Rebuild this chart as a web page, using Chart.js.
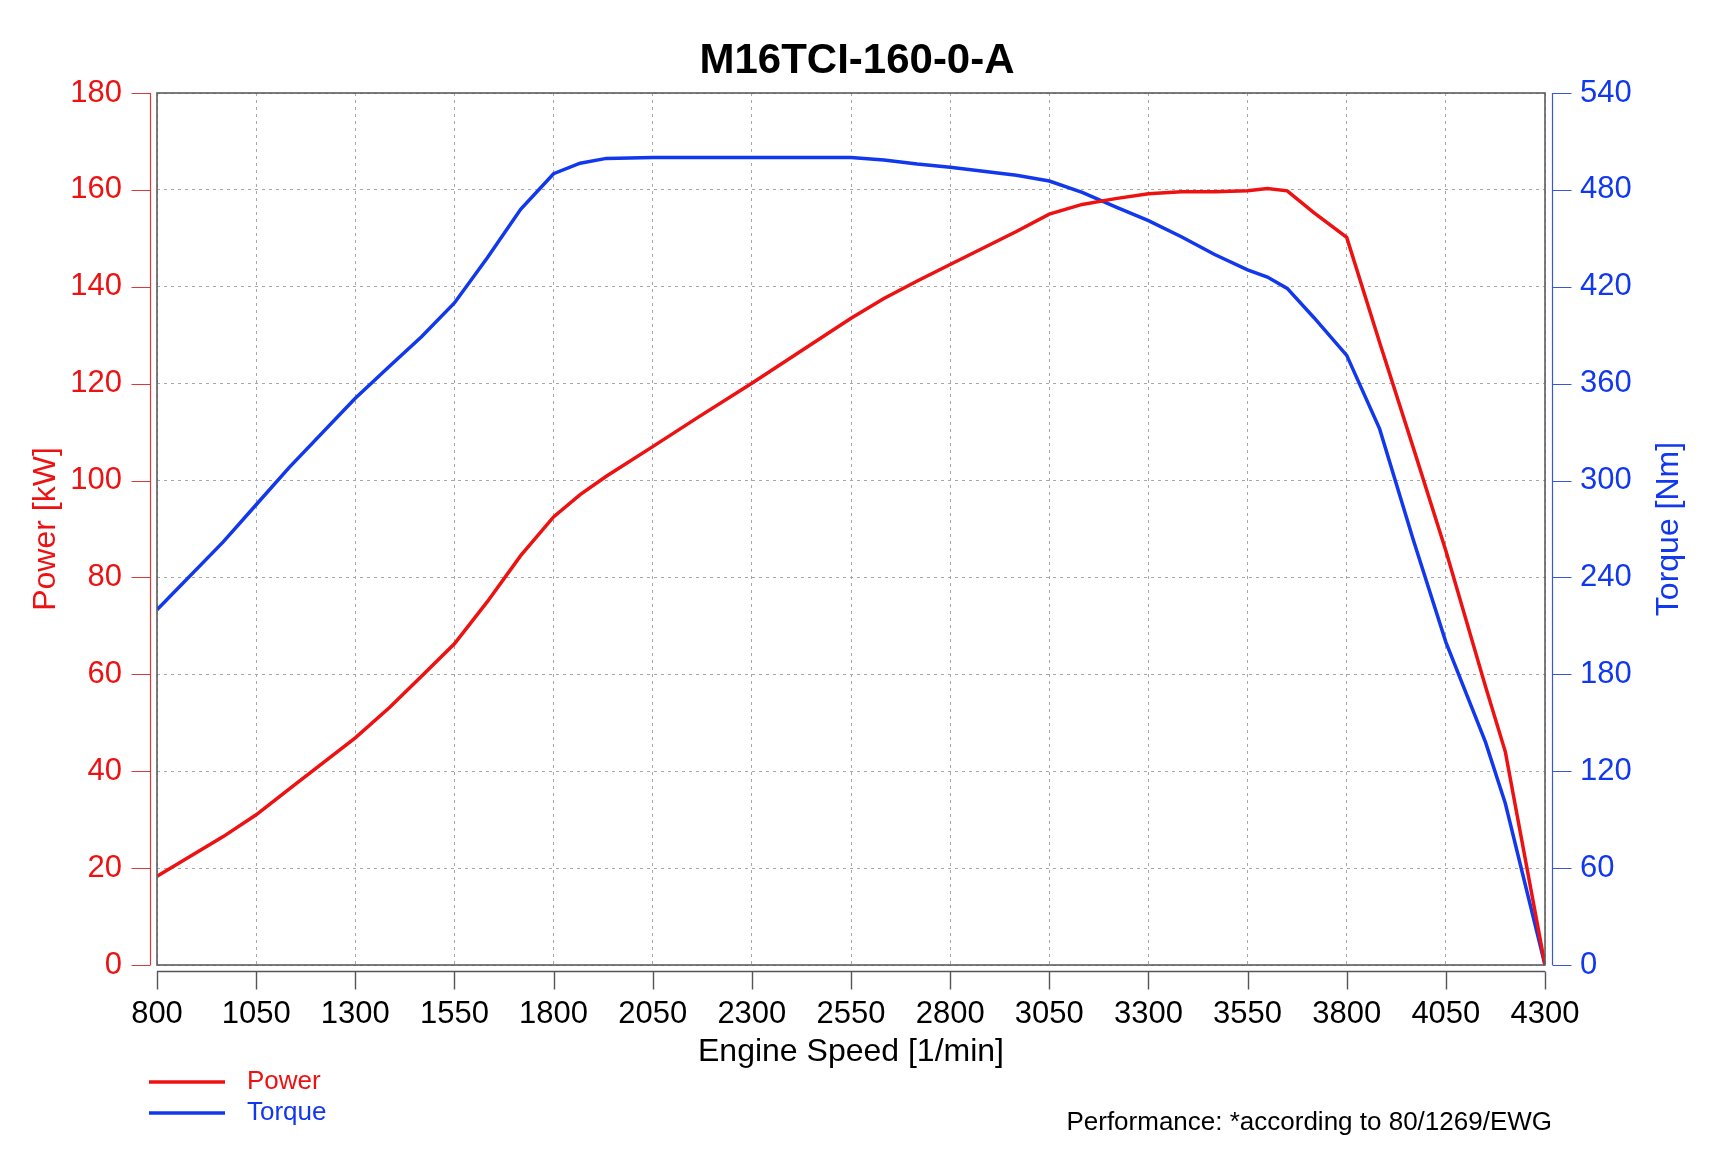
<!DOCTYPE html>
<html>
<head>
<meta charset="utf-8">
<title>M16TCI-160-0-A</title>
<script src="https://cdn.jsdelivr.net/npm/chart.js@4.4.1/dist/chart.umd.min.js"></script>
<style>
  html, body { margin: 0; padding: 0; background: #fff; }
  #wrap { position: relative; width: 1714px; height: 1166px; }
</style>
</head>
<body>
<div id="wrap"><canvas id="chart" width="1714" height="1166"></canvas></div>
<script>
// engine speed [1/min] where the curves were read
const rpm = [800, 967, 1050, 1133, 1300, 1387, 1467, 1550, 1633, 1717, 1800, 1867, 1933, 2050, 2167, 2300,
  2550, 2633, 2717, 2800, 2967, 3050, 3133, 3217, 3300, 3383, 3467, 3550, 3600, 3650, 3717,
  3800, 3883, 3967, 4050, 4150, 4200, 4300];

// Power [kW]
const powerKw = [18.3, 26.5, 31, 36.3, 46.9, 53.2, 59.6, 66.3, 75, 84.5, 92.5, 97.1, 100.9, 107, 113.2, 120.1,
  133.5, 137.6, 141.2, 144.6, 151.4, 155, 157, 158.2, 159.2, 159.6, 159.6, 159.8, 160.3, 159.8, 155.3,
  150.2, 128.5, 107, 85.5, 57.5, 44, 0];

// Torque [Nm]
const torqueNm = [220, 262, 285, 308, 351, 371, 389, 410, 438, 468, 490, 496.5, 499.5, 500, 500, 500,
  500, 498.5, 496, 494, 489, 485.5, 478.5, 469.5, 461, 451, 440, 430.5, 426, 419, 401,
  377.5, 332, 264, 200, 138, 100, 0];

const xTicks = [800, 1050, 1300, 1550, 1800, 2050, 2300, 2550, 2800, 3050, 3300, 3550, 3800, 4050, 4300];

const RED = '#ee1111';
const BLUE = '#1238ee';
const FONT = "'Liberation Sans', Arial, Helvetica, sans-serif";

// axis lines sit a few px outside the plot frame, like the original
const axisDecor = {
  id: 'axisDecor',
  afterDraw(chart) {
    const { ctx, chartArea: a, scales } = chart;
    const gap = 6.5, tick = 19;
    ctx.save();
    ctx.setLineDash([]);

    // plot frame
    ctx.strokeStyle = '#5c5c5c';
    ctx.lineWidth = 1.6;
    ctx.strokeRect(a.left, a.top, a.right - a.left, a.bottom - a.top);

    ctx.lineWidth = 1.2;
    // left power axis
    ctx.strokeStyle = '#d83a3a';
    ctx.beginPath();
    ctx.moveTo(a.left - gap, a.top); ctx.lineTo(a.left - gap, a.bottom);
    scales.y.ticks.forEach(t => {
      const py = Math.round(scales.y.getPixelForValue(t.value)) + 0.5;
      ctx.moveTo(a.left - gap, py); ctx.lineTo(a.left - gap - tick, py);
    });
    ctx.stroke();

    // right torque axis
    ctx.strokeStyle = '#3a57d0';
    ctx.beginPath();
    ctx.moveTo(a.right + gap + 1, a.top); ctx.lineTo(a.right + gap + 1, a.bottom);
    scales.y1.ticks.forEach(t => {
      const py = Math.round(scales.y1.getPixelForValue(t.value)) + 0.5;
      ctx.moveTo(a.right + gap + 1, py); ctx.lineTo(a.right + gap + 1 + tick, py);
    });
    ctx.stroke();

    // bottom speed axis
    ctx.strokeStyle = '#555';
    ctx.lineWidth = 1.4;
    ctx.beginPath();
    ctx.moveTo(a.left, a.bottom + gap); ctx.lineTo(a.right, a.bottom + gap);
    scales.x.ticks.forEach(t => {
      const px = Math.round(scales.x.getPixelForValue(t.value)) + 0.5;
      ctx.moveTo(px, a.bottom + gap); ctx.lineTo(px, a.bottom + gap + 18);
    });
    ctx.stroke();

    // right axis title reads bottom to top
    ctx.fillStyle = BLUE;
    ctx.font = '32px ' + FONT;
    ctx.textAlign = 'center';
    ctx.textBaseline = 'middle';
    ctx.translate(1669, (a.top + a.bottom) / 2);
    ctx.rotate(-Math.PI / 2);
    ctx.fillText('Torque [Nm]', 0, 0);
    ctx.restore();

    // legend, stacked at bottom left
    ctx.save();
    ctx.font = '26px ' + FONT;
    ctx.textBaseline = 'middle';
    chart.data.datasets.forEach((ds, i) => {
      const ly = 1082 + i * 31;
      ctx.strokeStyle = ds.borderColor;
      ctx.lineWidth = 3.5;
      ctx.beginPath();
      ctx.moveTo(149, ly); ctx.lineTo(225, ly);
      ctx.stroke();
      ctx.fillStyle = ds.borderColor;
      ctx.fillText(ds.label, 247, ly);
    });

    // footnote
    ctx.fillStyle = '#000';
    ctx.textAlign = 'right';
    ctx.fillText('Performance: *according to 80/1269/EWG', 1552, 1123);
    ctx.restore();
  }
};

const gridDash = { display: false, dash: [3, 4] };

new Chart(document.getElementById('chart'), {
  type: 'line',
  data: {
    datasets: [
      {
        label: 'Power',
        data: rpm.map((r, i) => ({ x: r, y: powerKw[i] })),
        borderColor: RED,
        borderWidth: 3.5,
        pointRadius: 0,
        tension: 0,
        yAxisID: 'y'
      },
      {
        label: 'Torque',
        data: rpm.map((r, i) => ({ x: r, y: torqueNm[i] })),
        borderColor: BLUE,
        borderWidth: 3.5,
        pointRadius: 0,
        tension: 0,
        yAxisID: 'y1'
      }
    ]
  },
  options: {
    responsive: false,
    animation: false,
    devicePixelRatio: 1,
    layout: { padding: 0 },
    plugins: {
      legend: { display: false },
      tooltip: { enabled: false },
      title: {
        display: true,
        text: 'M16TCI-160-0-A',
        color: '#000',
        font: { family: FONT, size: 42, weight: 'bold' },
        padding: { top: 36, bottom: 6.6 }
      }
    },
    scales: {
      x: {
        type: 'linear',
        min: 800,
        max: 4300,
        afterBuildTicks: s => { s.ticks = xTicks.map(v => ({ value: v })); },
        afterFit: s => { s.height = 201; },
        grid: { color: '#a8a8a8', lineWidth: 1, drawTicks: false },
        border: gridDash,
        ticks: {
          color: '#000', padding: 31, maxRotation: 0, autoSkip: false,
          font: { family: FONT, size: 31 },
          callback: v => String(v)
        },
        title: {
          display: true,
          text: 'Engine Speed [1/min]',
          color: '#000',
          font: { family: FONT, size: 32 },
          padding: { top: 0, bottom: 94.7 }
        }
      },
      y: {
        position: 'left',
        min: 0,
        max: 180,
        afterFit: s => { s.width = 157; },
        grid: { color: '#a8a8a8', lineWidth: 1, drawTicks: false },
        border: gridDash,
        ticks: { stepSize: 20, color: RED, padding: 35, font: { family: FONT, size: 31 } },
        title: {
          display: true,
          text: 'Power [kW]',
          color: RED,
          font: { family: FONT, size: 32 },
          padding: { top: 27, bottom: 0 }
        }
      },
      y1: {
        position: 'right',
        min: 0,
        max: 540,
        afterFit: s => { s.width = 169; },
        grid: { drawOnChartArea: false, drawTicks: false },
        border: { display: false },
        ticks: { stepSize: 60, color: BLUE, padding: 35, font: { family: FONT, size: 31 } },
        title: { display: false }
      }
    }
  },
  plugins: [axisDecor]
});
</script>
</body>
</html>
